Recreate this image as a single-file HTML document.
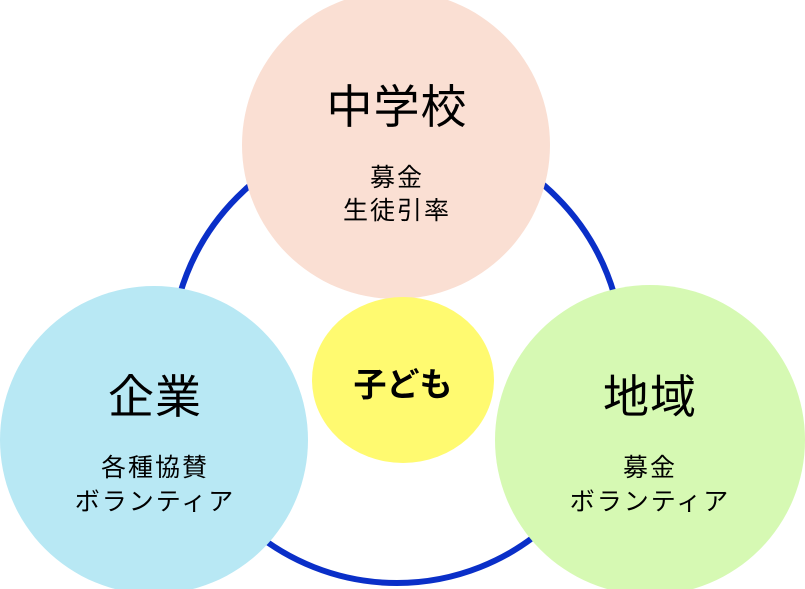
<!DOCTYPE html>
<html><head><meta charset="utf-8"><style>
html,body{margin:0;padding:0;background:#fff}
svg{display:block}
text{font-family:"Liberation Sans","Noto Sans CJK JP",sans-serif;fill:#000;text-anchor:middle}
.t{font-size:46px;letter-spacing:1px}
.s{font-size:25px;letter-spacing:2px}
</style></head><body>
<svg width="805" height="589" viewBox="0 0 805 589">
<circle cx="397" cy="357" r="226" fill="none" stroke="#0a2fc8" stroke-width="6"/>
<circle cx="396" cy="145" r="154" fill="#fadfd3"/>
<circle cx="154" cy="440" r="154" fill="#b8e8f4"/>
<circle cx="650" cy="440" r="155" fill="#d6f9b3"/>
<ellipse cx="403" cy="380" rx="91" ry="83" fill="#fffa70"/>
<text class="t" x="397" y="123">中学校</text>
<text class="s" x="397" y="186">募金</text>
<text class="s" x="397" y="219">生徒引率</text>
<text x="403" y="396" font-size="33" font-weight="bold">子ども</text>
<text class="t" x="155" y="413">企業</text>
<text class="s" x="155" y="476">各種協賛</text>
<text class="s" x="155" y="510">ボランティア</text>
<text class="t" x="650" y="413">地域</text>
<text class="s" x="650" y="476">募金</text>
<text class="s" x="650" y="510">ボランティア</text>
</svg>
</body></html>
